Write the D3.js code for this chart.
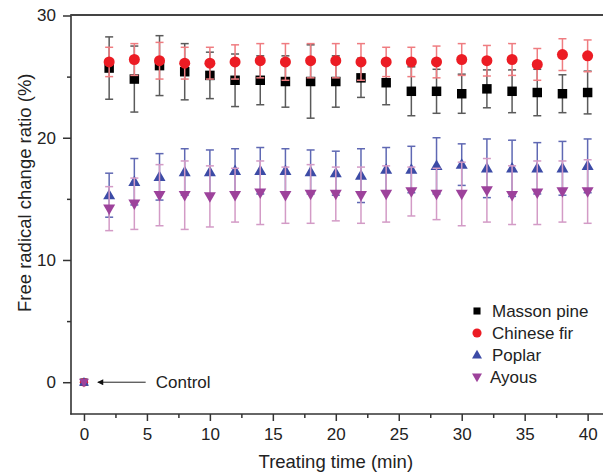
<!DOCTYPE html>
<html>
<head>
<meta charset="utf-8">
<script src="https://cdn.jsdelivr.net/npm/d3@7"></script>
<style>
  body { margin: 0; background: #fff; }
  svg { font-family: "Liberation Sans", Arial, sans-serif; }
</style>
</head>
<body>
<svg id="chart" width="603" height="473"></svg>
<script>
// data
const times = [2, 4, 6, 8, 10, 12, 14, 16, 18, 20, 22, 24, 26, 28, 30, 32, 34, 36, 38, 40];

const massonPine = [25.7, 24.8, 25.9, 25.4, 25.1, 24.7, 24.7, 24.6, 24.6, 24.6, 24.9, 24.5, 23.8, 23.8, 23.6, 24.0, 23.8, 23.7, 23.6, 23.7];
const massonPineErr = [2.55, 2.7, 2.45, 2.3, 1.9, 2.15, 2.0, 2.1, 3.0, 2.1, 1.6, 1.8, 2.0, 1.8, 1.6, 1.55, 1.75, 1.9, 1.55, 1.75];

const chineseFir = [26.2, 26.4, 26.3, 26.1, 26.1, 26.2, 26.3, 26.2, 26.3, 26.3, 26.2, 26.2, 26.2, 26.2, 26.4, 26.3, 26.4, 26.0, 26.8, 26.7];
const chineseFirErr = [1.2, 1.3, 1.5, 1.3, 1.3, 1.4, 1.4, 1.5, 1.4, 1.4, 1.5, 1.2, 1.2, 1.3, 1.3, 1.25, 1.3, 1.3, 1.3, 1.3];

const poplar = [15.3, 16.4, 16.8, 17.2, 17.2, 17.3, 17.3, 17.3, 17.2, 17.1, 16.9, 17.4, 17.4, 17.7, 17.8, 17.5, 17.5, 17.5, 17.5, 17.7];
const poplarErr = [1.8, 1.9, 1.9, 1.9, 1.8, 1.8, 1.9, 1.8, 1.8, 1.8, 2.2, 1.8, 1.9, 2.3, 1.7, 2.4, 2.3, 2.1, 2.2, 2.2];

const ayous = [14.2, 14.6, 15.3, 15.3, 15.2, 15.3, 15.5, 15.3, 15.4, 15.4, 15.3, 15.4, 15.6, 15.4, 15.4, 15.7, 15.3, 15.5, 15.6, 15.6];
const ayousErr = [1.8, 2.1, 2.5, 2.8, 2.5, 2.2, 2.6, 2.3, 2.4, 2.2, 2.3, 2.3, 2.0, 2.1, 2.6, 2.6, 2.4, 2.6, 2.5, 2.6];

// control point at t = 0
const controlTime = 0;
const controlValue = 0;

const xTicks = [0, 5, 10, 15, 20, 25, 30, 35, 40];
const xMinorTicks = [2.5, 7.5, 12.5, 17.5, 22.5, 27.5, 32.5, 37.5];
const yTicks = [0, 10, 20, 30];
const yMinorTicks = [5, 15, 25];

const seriesNames = ["Masson pine", "Chinese fir", "Poplar", "Ayous"];

const series = [
  { name: seriesNames[0], values: massonPine, err: massonPineErr, symbol: d3.symbolSquare, size: 90, fill: "#000000", errColor: "#5a5a5a" },
  { name: seriesNames[1], values: chineseFir, err: chineseFirErr, symbol: d3.symbolCircle, size: 95, fill: "#ec1c24", errColor: "#ef7c80" },
  { name: seriesNames[2], values: poplar, err: poplarErr, symbol: "up", size: 0, fill: "#3c4ba6", errColor: "#5f68b3" },
  { name: seriesNames[3], values: ayous, err: ayousErr, symbol: "down", size: 0, fill: "#9d429b", errColor: "#d39bc6" }
];

const svg = d3.select("#chart");

// scales
const x = d3.scaleLinear().domain([-1.03, 41.3]).range([71, 604]);
const y = d3.scaleLinear().domain([-2.6, 30]).range([414, 15.5]);

// triangle path
function triangle(dir, s) {
  const h = s * 0.87;
  if (dir === "up") return `M0,${-h * 0.6}L${s / 2},${h * 0.4}L${-s / 2},${h * 0.4}Z`;
  return `M0,${h * 0.6}L${s / 2},${-h * 0.4}L${-s / 2},${-h * 0.4}Z`;
}

function symbolPath(s) {
  if (s.symbol === "up" || s.symbol === "down") return triangle(s.symbol, 12);
  return d3.symbol().type(s.symbol).size(s.size)();
}

// axes
const axisColor = "#333";

// y axis
const yAxis = svg.append("g")
  .attr("transform", "translate(71,0)")
  .call(d3.axisLeft(y).tickValues(yTicks).tickSize(8).tickPadding(7).tickFormat(d3.format("d")));
const yMinor = svg.append("g")
  .attr("transform", "translate(71,0)")
  .call(d3.axisLeft(y).tickValues(yMinorTicks).tickSize(4).tickFormat(""));

// x axis
const xAxis = svg.append("g")
  .attr("transform", "translate(0,414)")
  .call(d3.axisBottom(x).tickValues(xTicks).tickSize(7).tickPadding(7).tickFormat(d3.format("d")));
const xMinor = svg.append("g")
  .attr("transform", "translate(0,414)")
  .call(d3.axisBottom(x).tickValues(xMinorTicks).tickSize(4).tickFormat(""));

[yAxis, yMinor, xAxis, xMinor].forEach(g => {
  g.select(".domain").remove();
  g.selectAll(".tick line").attr("stroke", axisColor).attr("stroke-width", 1.5);
  g.selectAll(".tick text").attr("fill", "#222").attr("font-size", "17px");
});

// frame lines
svg.append("line").attr("x1", 71).attr("x2", 71).attr("y1", 15).attr("y2", 414.5)
  .attr("stroke", axisColor).attr("stroke-width", 1.6);
svg.append("line").attr("x1", 70.2).attr("x2", 603).attr("y1", 414).attr("y2", 414)
  .attr("stroke", axisColor).attr("stroke-width", 1.6);
svg.append("line").attr("x1", 70.2).attr("x2", 603).attr("y1", 15).attr("y2", 15)
  .attr("stroke", "#444").attr("stroke-width", 2);

// axis labels
svg.append("text")
  .attr("text-anchor", "middle")
  .attr("transform", `translate(31,${y(15.5)}) rotate(-90)`)
  .attr("font-size", "18.5px")
  .attr("fill", "#222")
  .text("Free radical change ratio (%)");

svg.append("text")
  .attr("text-anchor", "middle")
  .attr("x", x(20))
  .attr("y", 468)
  .attr("font-size", "18.5px")
  .attr("fill", "#222")
  .text("Treating time (min)");

// series: error bars then symbols
const capW = 4;
series.forEach(s => {
  const data = times.map((t, i) => ({ t, v: s.values[i], e: s.err[i] }));
  const g = svg.append("g").attr("class", "series");

  const eb = g.selectAll(".eb").data(data).enter().append("g")
    .attr("stroke", s.errColor).attr("stroke-width", 1.5);
  eb.append("line")
    .attr("x1", d => x(d.t)).attr("x2", d => x(d.t))
    .attr("y1", d => y(d.v + d.e)).attr("y2", d => y(d.v - d.e));
  eb.append("line")
    .attr("x1", d => x(d.t) - capW).attr("x2", d => x(d.t) + capW)
    .attr("y1", d => y(d.v + d.e)).attr("y2", d => y(d.v + d.e));
  eb.append("line")
    .attr("x1", d => x(d.t) - capW).attr("x2", d => x(d.t) + capW)
    .attr("y1", d => y(d.v - d.e)).attr("y2", d => y(d.v - d.e));

  g.selectAll(".pt").data(data).enter().append("path")
    .attr("d", symbolPath(s))
    .attr("transform", d => `translate(${x(d.t)},${y(d.v)})`)
    .attr("fill", s.fill);
});

// control markers, all species overlap at (0, 0)
series.forEach(s => {
  const p = (s.symbol === "up" || s.symbol === "down")
    ? triangle(s.symbol, 10)
    : d3.symbol().type(s.symbol).size(55)();
  svg.append("path")
    .attr("d", p)
    .attr("transform", `translate(${x(controlTime)},${y(controlValue)})`)
    .attr("fill", s.fill);
});

// arrow to control
svg.append("defs").append("marker")
  .attr("id", "arrowHead")
  .attr("viewBox", "0 0 10 10")
  .attr("refX", 9).attr("refY", 5)
  .attr("markerWidth", 9).attr("markerHeight", 6)
  .attr("markerUnits", "userSpaceOnUse")
  .attr("orient", "auto")
  .append("path").attr("d", "M0,0L10,5L0,10Z").attr("fill", "#111");

svg.append("line")
  .attr("x1", x(4.9)).attr("x2", x(1.1))
  .attr("y1", y(controlValue)).attr("y2", y(controlValue))
  .attr("stroke", "#222").attr("stroke-width", 1)
  .attr("marker-end", "url(#arrowHead)");

svg.append("text")
  .attr("x", x(5.7))
  .attr("y", y(controlValue) + 6)
  .attr("font-size", "17px")
  .attr("fill", "#222")
  .text("Control");

// legend
const legend = svg.append("g").attr("transform", "translate(477,311)");
series.forEach((s, i) => {
  const row = legend.append("g").attr("transform", `translate(0,${i * 22})`);
  const mark = (s.symbol === "up" || s.symbol === "down")
    ? triangle(s.symbol, 10)
    : d3.symbol().type(s.symbol).size(s.symbol === d3.symbolSquare ? 50 : 65)();
  row.append("path").attr("d", mark).attr("fill", s.fill);
  row.append("text")
    .attr("x", i === 3 ? 13 : 15)
    .attr("y", 6)
    .attr("font-size", "17px")
    .attr("fill", "#222")
    .text(s.name);
});
</script>
</body>
</html>
